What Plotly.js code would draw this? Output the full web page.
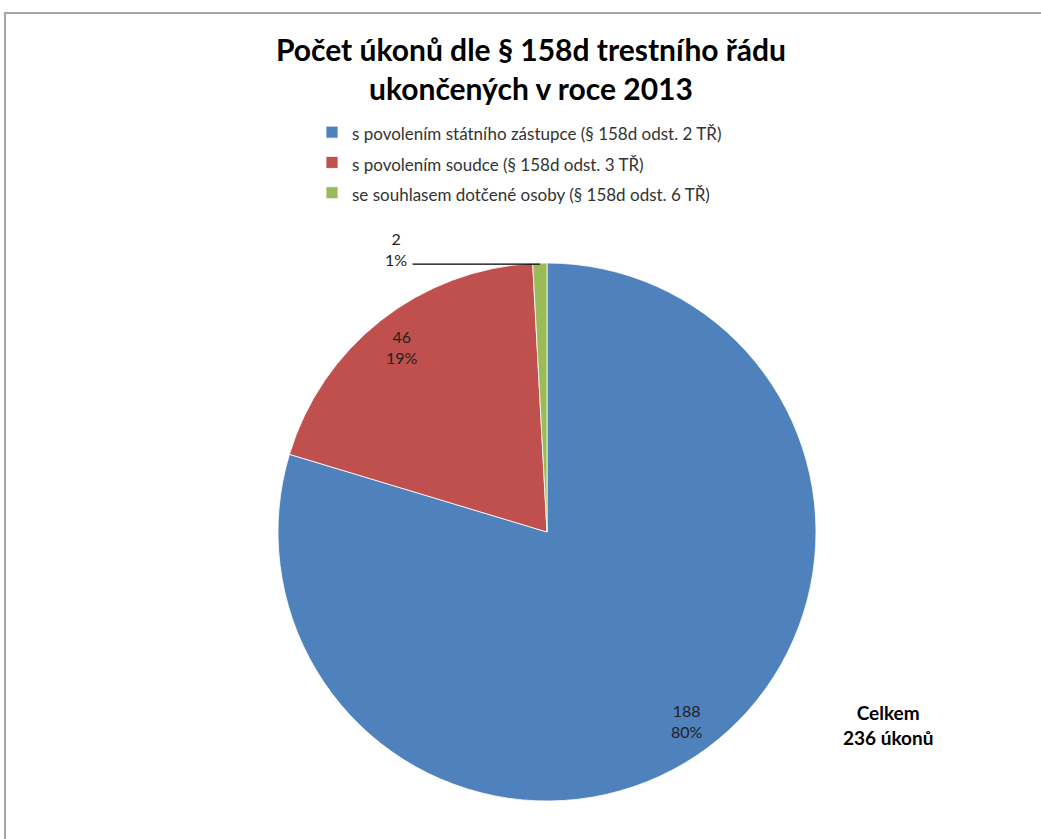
<!DOCTYPE html>
<html>
<head>
<meta charset="utf-8">
<script src="https://cdn.plot.ly/plotly-3.0.1.min.js"></script>
<style>html,body{margin:0;padding:0;background:#fff;}#chart{width:1041px;height:839px;}</style>
</head>
<body>
<div id="chart"></div>
<script>
const categories = [
  "s povolením státního zástupce (§ 158d odst. 2 TŘ)",
  "s povolením soudce (§ 158d odst. 3 TŘ)",
  "se souhlasem dotčené osoby (§ 158d odst. 6 TŘ)"
];
const values = [188, 46, 2];
const colors = ["#4F81BD", "#C0504D", "#9BBB59"];
const titleText = "Počet úkonů dle § 158d trestního řádu<br>ukončených v roce 2013";
const totalLabel = "Celkem";
const totalUnit = "úkonů";

const total = values.reduce((a, b) => a + b, 0);
const W = 1041, H = 839;
const cx = 547, cy = 532, R = 269;
const domX = [(cx - R) / W, (cx + R) / W];
const domY = [(H - cy - R) / H, (H - cy + R) / H];
const FONT = 'Lato, Open Sans, sans-serif';

const legendLabels = categories.map(c => '<span style="font-size:17px">' + c + '</span>');

const trace = {
  type: 'pie',
  labels: legendLabels,
  values: values,
  sort: false,
  direction: 'clockwise',
  rotation: 0,
  domain: {x: domX, y: domY},
  marker: {colors: colors, line: {color: '#ffffff', width: 0.8}},
  textposition: 'none',
  hoverinfo: 'label+value+percent',
  showlegend: true
};

// data labels placed like the original (outer part of each slice)
const annotations = [];
let cum = 0;
values.forEach((v, i) => {
  const pct = Math.round(v / total * 100);
  const midFrac = (cum + v / 2) / total;
  cum += v;
  const ang = midFrac * 2 * Math.PI; // clockwise from 12 o'clock
  const txt = v + '<br>' + pct + '%';
  if (v / total > 0.05) {
    const r = 0.875 * R;
    const lx = cx + r * Math.sin(ang), ly = cy - r * Math.cos(ang);
    annotations.push({xref: 'paper', yref: 'paper', x: lx / W, y: 1 - ly / H,
      xanchor: 'center', yanchor: 'middle', text: txt, showarrow: false,
      font: {family: FONT, size: 16, color: '#222'}});
  } else {
    const px = cx + R * Math.sin(ang), py = cy - R * Math.cos(ang);
    annotations.push({xref: 'paper', yref: 'paper', x: 396 / W, y: 1 - 249 / H,
      xanchor: 'center', yanchor: 'middle', text: txt, showarrow: false,
      font: {family: FONT, size: 16, color: '#222'}});
    annotations.push({xref: 'paper', yref: 'paper', x: px / W, y: 1 - (py + 1) / H, text: '',
      showarrow: true, arrowhead: 0, arrowwidth: 1.2, arrowcolor: '#000',
      ax: 411 - px, ay: 0, standoff: 0, startstandoff: 0});
  }
});

annotations.push({xref: 'paper', yref: 'paper', x: 888 / W, y: 1 - 725 / H, xanchor: 'center', yanchor: 'middle',
  text: '<b>' + totalLabel + '<br>' + total + ' ' + totalUnit + '</b>', showarrow: false,
  font: {family: FONT, size: 19, color: '#000'}});

const layout = {
  width: W, height: H,
  margin: {l: 0, r: 0, t: 0, b: 0},
  paper_bgcolor: '#ffffff',
  title: {
    text: '<b>' + titleText + '</b>',
    font: {family: FONT, size: 30, color: '#000'},
    x: 531 / W, xanchor: 'center',
    y: 1 - 61 / H, yanchor: 'top'
  },
  legend: {
    x: 312 / W, xanchor: 'left',
    y: 1 - 112 / H, yanchor: 'top',
    font: {family: FONT, size: 21, color: '#333'},
    bgcolor: 'rgba(0,0,0,0)',
    traceorder: 'normal'
  },
  shapes: [
    {type: 'rect', xref: 'paper', yref: 'paper', x0: 5 / W, x1: 1.02, y0: -0.02, y1: 1 - 13 / H,
     line: {color: '#a6a6a6', width: 2}, fillcolor: 'rgba(0,0,0,0)'}
  ],
  annotations: annotations
};

Plotly.newPlot('chart', [trace], layout, {displayModeBar: false, staticPlot: true});
</script>
</body>
</html>
